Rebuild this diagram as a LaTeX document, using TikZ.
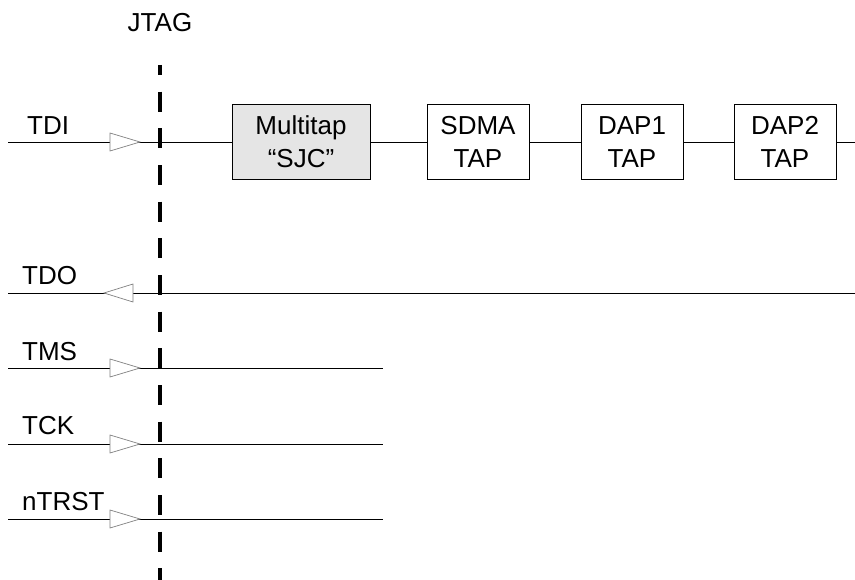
\documentclass[tikz,border=0pt]{standalone}
\usepackage{fontspec}
\setmainfont{Liberation Sans}
\begin{document}
\begin{tikzpicture}[x=1pt,y=-1pt,
  lbl/.style={font=\fontsize{26}{33}\selectfont, inner sep=0pt},
  tapbox/.style={draw, line width=0.9pt, lbl, align=center,
    minimum width=102pt, minimum height=75pt},
  wire/.style={line width=0.9pt},
  buffer/.style={draw=black!50, fill=white, line width=0.7pt},
  jtagline/.style={line width=4pt, dash pattern=on 20pt off 16.67pt, dash phase=10pt},
  pics/bufright/.style={code={\draw[buffer] (-30,-9) -- (0,0) -- (-30,9) -- cycle;}},
  pics/bufleft/.style={code={\draw[buffer] (29,-9) -- (0,0) -- (29,9) -- cycle;}}
]
\useasboundingbox (0,0) rectangle (855,580);

% Scan chain boxes
\node[tapbox, fill=black!10, minimum width=138pt] (sjc) at (301,142) {Multitap\\“SJC”};
\node[tapbox] (sdma) at (478,142) {SDMA\\TAP};
\node[tapbox] (dap1) at (632,142) {DAP1\\TAP};
\node[tapbox] (dap2) at (785,142) {DAP2\\TAP};

% Signal names
\node[lbl, anchor=base] (jtag) at (160,32) {JTAG};
\node[lbl, anchor=base west] (tdi) at (27,135) {TDI};
\node[lbl, anchor=base west] (tdo) at (22,285) {TDO};
\node[lbl, anchor=base west] (tms) at (22,360) {TMS};
\node[lbl, anchor=base west] (tck) at (22,435) {TCK};
\node[lbl, anchor=base west] (ntrst) at (22,510) {nTRST};

% Wire end points
\coordinate (tdiin) at (8,142);
\coordinate (tdoin) at (8,293);
\coordinate (tdoout) at (855,293);
\coordinate (chainout) at (855,142);
\coordinate (tmsin) at (8,368);
\coordinate (tmsout) at (383,368);
\coordinate (tckin) at (8,444);
\coordinate (tckout) at (383,444);
\coordinate (trstin) at (8,519);
\coordinate (trstout) at (383,519);

% Wires
\draw[wire] (tdiin) -- (sjc.west);
\draw[wire] (sjc.east) -- (sdma.west);
\draw[wire] (sdma.east) -- (dap1.west);
\draw[wire] (dap1.east) -- (dap2.west);
\draw[wire] (dap2.east) -- (chainout);
\draw[wire] (tdoin) -- (tdoout);
\draw[wire] (tmsin) -- (tmsout);
\draw[wire] (tckin) -- (tckout);
\draw[wire] (trstin) -- (trstout);

% Buffers
\pic at (140,142) {bufright};
\pic at (104,293) {bufleft};
\pic at (140,368) {bufright};
\pic at (140,444) {bufright};
\pic at (140,519) {bufright};

% JTAG boundary
\coordinate (btop) at (160,65);
\coordinate (bbot) at (160,580);
\draw[jtagline] (btop) -- (bbot);
\end{tikzpicture}
\end{document}
